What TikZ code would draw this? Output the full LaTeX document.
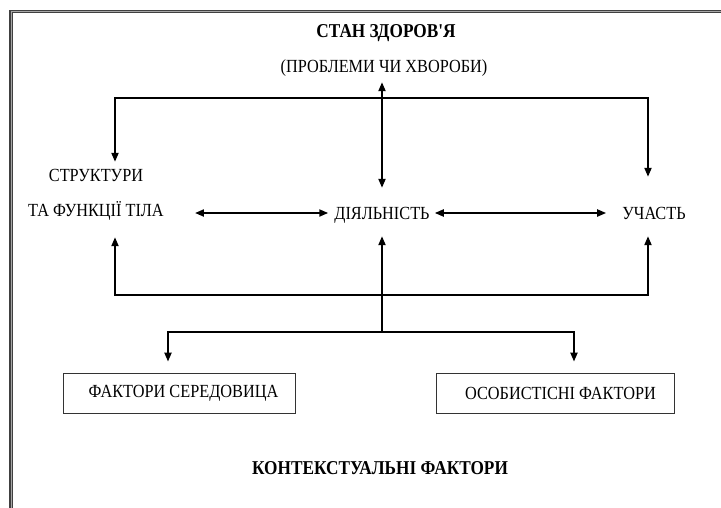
\documentclass[tikz,border=0pt]{standalone}
\usepackage{fontspec}
\setmainfont{Liberation Serif}[Ligatures=TeXOff, FakeStretch=0.88]
\usetikzlibrary{arrows.meta}
\begin{document}
\begin{tikzpicture}[x=1pt,y=-1pt,
  lbl/.style={inner sep=0pt, anchor=base, text height=12pt, text depth=0pt,
    font=\fontsize{18.5}{20}\selectfont},
  hd/.style={lbl, font=\fontsize{19.6}{21}\selectfont\bfseries},
  boxn/.style={draw=black!80, line width=0.8pt, minimum height=40pt, inner sep=0pt,
    font=\fontsize{18.5}{20}\selectfont},
  ln/.style={line width=2pt, line join=miter},
  arr/.style={ln, -{Triangle[length=9pt,width=7pt]}},
  darr/.style={ln, {Triangle[length=9pt,width=7pt]}-{Triangle[length=9pt,width=7pt]}},
  frame/.style={draw=black!75, line width=1.2pt, double=black!35, double distance=1pt}
]
\useasboundingbox (0,0) rectangle (721,507);
\fill[white] (0,0) rectangle (721,507);
% outer frame (cropped)
\draw[frame] (11,510) -- (11,11.5) -- (725,11.5);

% texts
\node[hd]  (title)   at (386,37)  {СТАН ЗДОРОВ'Я};
\node[lbl] (sub)     at (384,72)  {(ПРОБЛЕМИ ЧИ ХВОРОБИ)};
\node[lbl] (struct1) at (96,181)  {СТРУКТУРИ};
\node[lbl] (struct2) at (96,216)  {ТА ФУНКЦІЇ ТІЛА};
\node[lbl] (act)     at (382,219) {ДІЯЛЬНІСТЬ};
\node[lbl] (part)    at (654,219) {УЧАСТЬ};
\node[boxn, minimum width=232pt] (env)  at (179,393) {\hspace*{9pt}ФАКТОРИ СЕРЕДОВИЦА};
\node[boxn, minimum width=238pt] (pers) at (555,393) {\hspace*{11pt}ОСОБИСТІСНІ ФАКТОРИ};
\node[hd]  (ctx)     at (380,474) {КОНТЕКСТУАЛЬНІ ФАКТОРИ};

% junctions
\coordinate (jTL) at (115,98);
\coordinate (jTR) at (648,98);
\coordinate (jBL) at (115,295);
\coordinate (jBR) at (648,295);
\coordinate (jM)  at (382,332);
\coordinate (jFL) at (168,332);
\coordinate (jFR) at (574,332);

% top bracket
\draw[darr, shorten <=7pt, shorten >=30pt]
  (struct1.north -| jTL) -- (jTL) -- (jTR) -- (part.north -| jTR);
% health condition <-> activity
\draw[darr, shorten <=10pt, shorten >=19pt] (sub.south -| act) -- (act.north);
% horizontal links
\draw[darr, shorten <=31pt, shorten >=6pt] (struct2.east |- act.west) -- (act.west);
\draw[darr, shorten <=5pt, shorten >=16pt] (act.east) -- (part.west);
% bottom bracket
\draw[darr, shorten <=21pt, shorten >=17pt]
  (struct2.south -| jBL) -- (jBL) -- (jBR) -- (part.south -| jBR);
% contextual factors to activity
\draw[arr, shorten >=17pt] (jM) -- (act.south);
% branch to factor boxes
\draw[darr, shorten <=11pt, shorten >=11pt]
  (env.north -| jFL) -- (jFL) -- (jFR) -- (pers.north -| jFR);
\end{tikzpicture}
\end{document}
